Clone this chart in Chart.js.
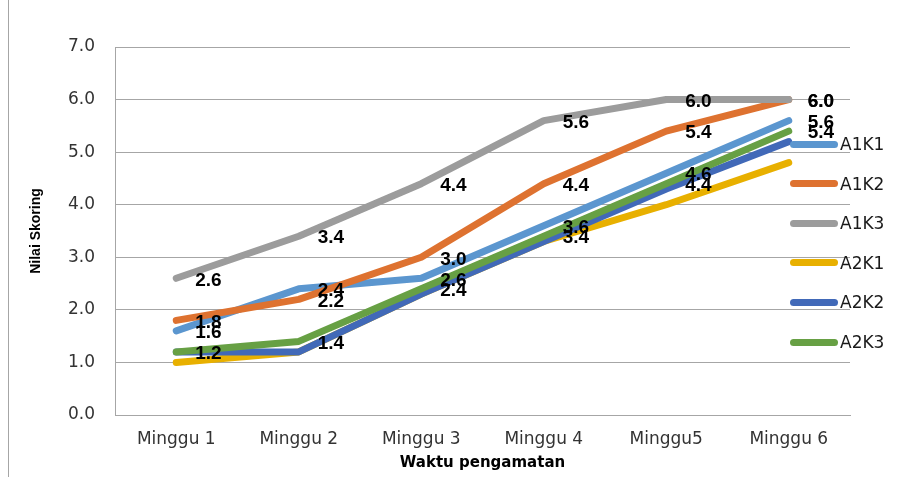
<!DOCTYPE html>
<html>
<head>
<meta charset="utf-8">
<script src="https://cdn.jsdelivr.net/npm/chart.js@4.4.0/dist/chart.umd.min.js"></script>
<style>
  html, body { margin: 0; padding: 0; background: #ffffff; }
  #wrap { position: relative; width: 898px; height: 477px; overflow: hidden; }
  #frame { position: absolute; left: 8px; top: 0; width: 1px; height: 477px; background: #a6a6a6; }
  #legend { position: absolute; left: 0; top: 0; font: 17px 'DejaVu Sans', sans-serif; color: #1a1a1a; }
  .item { position: absolute; display: flex; align-items: center; white-space: nowrap; height: 20px; }
  .swatch { width: 48px; height: 7px; border-radius: 4px; margin-right: 2px; }
</style>
</head>
<body>
<div id="wrap">
  <canvas id="c" width="898" height="477"></canvas>
  <div id="frame"></div>
  <div id="legend"></div>
</div>
<script>
// ---- data ----
const categories = ['Minggu 1', 'Minggu 2', 'Minggu 3', 'Minggu 4', 'Minggu5', 'Minggu 6'];
const seriesNames = ['A1K1', 'A1K2', 'A1K3', 'A2K1', 'A2K2', 'A2K3'];
const A1K1 = [1.6, 2.4, 2.6, 3.6, 4.6, 5.6];
const A1K2 = [1.8, 2.2, 3.0, 4.4, 5.4, 6.0];
const A1K3 = [2.6, 3.4, 4.4, 5.6, 6.0, 6.0];
const A2K1 = [1.0, 1.2, 2.3, 3.3, 4.0, 4.8];
const A2K2 = [1.2, 1.2, 2.3, 3.3, 4.3, 5.2];
const A2K3 = [1.2, 1.4, 2.4, 3.4, 4.4, 5.4];
const labeledSeries = ['A1K1', 'A1K2', 'A1K3', 'A2K3'];
const yAxisMin = 0, yAxisMax = 7, yAxisStep = 1;
const seriesColors = ['#5B96CF', '#DE7230', '#9C9C9C', '#E8B000', '#4169B8', '#67A044'];

const seriesValues = [A1K1, A1K2, A1K3, A2K1, A2K2, A2K3];

const datasets = seriesNames.map((name, i) => ({
  label: name,
  data: seriesValues[i],
  borderColor: seriesColors[i],
  backgroundColor: seriesColors[i],
  borderWidth: 7,
  pointRadius: 0,
  pointHoverRadius: 0,
  tension: 0,
  borderCapStyle: 'round',
  borderJoinStyle: 'round',
  fill: false,
  order: seriesNames.length - i,
  showLabels: labeledSeries.includes(name)
}));

const dataLabelPlugin = {
  id: 'dataLabels',
  afterDatasetsDraw(chart) {
    const ctx = chart.ctx;
    ctx.save();
    ctx.font = 'bold 19px "Liberation Sans", Arial, sans-serif';
    ctx.fillStyle = '#000000';
    ctx.textAlign = 'left';
    ctx.textBaseline = 'middle';
    chart.data.datasets.forEach((ds, i) => {
      if (!ds.showLabels) return;
      const meta = chart.getDatasetMeta(i);
      meta.data.forEach((pt, j) => {
        ctx.fillText(Number(ds.data[j]).toFixed(1), pt.x + 19, pt.y + 2);
      });
    });
    ctx.restore();
  }
};

const tickFont = { family: "'DejaVu Sans', sans-serif", size: 17 };

new Chart(document.getElementById('c'), {
  type: 'line',
  data: { labels: categories, datasets: datasets },
  plugins: [dataLabelPlugin],
  options: {
    responsive: false,
    devicePixelRatio: 1,
    animation: false,
    layout: { padding: { top: 47, right: 48, bottom: 0, left: 0 } },
    plugins: {
      legend: { display: false },
      tooltip: { enabled: false }
    },
    scales: {
      x: {
        offset: true,
        grid: { display: false, drawTicks: false },
        border: { display: true, color: '#a6a6a6', width: 1 },
        ticks: { padding: 14, color: '#333333', font: tickFont, maxRotation: 0, autoSkip: false },
        title: {
          display: true, text: 'Waktu pengamatan', color: '#000000',
          font: { family: "'DejaVu Sans', sans-serif", size: 15, weight: 'bold' },
          padding: { top: 0, bottom: 5 }
        },
        afterFit(s) { s.height = 62; }
      },
      y: {
        min: yAxisMin, max: yAxisMax,
        grid: { color: '#a6a6a6', lineWidth: 1, drawTicks: false },
        border: { display: true, color: '#a6a6a6', width: 1 },
        ticks: {
          stepSize: yAxisStep, padding: 20, color: '#333333', font: tickFont,
          callback: v => Number(v).toFixed(1)
        },
        title: {
          display: true, text: 'Nilai Skoring', color: '#000000',
          font: { family: "'Liberation Sans', Arial, sans-serif", size: 14, weight: 'bold' },
          padding: { top: 28, bottom: 0 }
        },
        afterFit(s) { s.width = 115; }
      }
    }
  }
});

// HTML legend
const legendEl = document.getElementById('legend');
seriesNames.forEach((name, i) => {
  const item = document.createElement('div');
  item.className = 'item';
  item.style.left = '790px';
  item.style.top = (134 + i * 39.6) + 'px';
  const sw = document.createElement('span');
  sw.className = 'swatch';
  sw.style.background = seriesColors[i];
  const tx = document.createElement('span');
  tx.textContent = name;
  item.appendChild(sw);
  item.appendChild(tx);
  legendEl.appendChild(item);
});
</script>
</body>
</html>
